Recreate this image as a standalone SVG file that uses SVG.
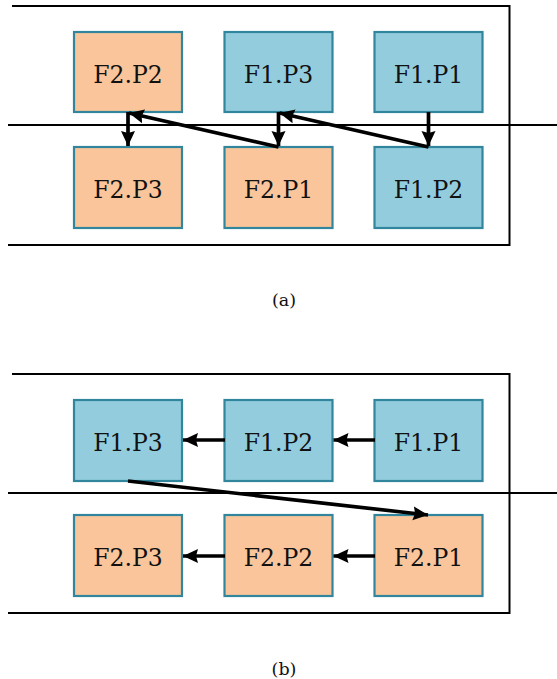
<svg xmlns="http://www.w3.org/2000/svg" width="557" height="679" viewBox="0 0 557 679">
<style>
.frame{stroke:#000;stroke-width:2;fill:none}
.box{stroke:#31869e;stroke-width:2.2}
.blue{fill:#93cddd}
.orange{fill:#fac59a}
text{font-family:'DejaVu Serif',serif;fill:#111;text-anchor:middle}
.lbl{font-size:23.5px}
.cap{font-size:17.5px}
.arr{stroke:#000;stroke-width:3.7;fill:none;marker-end:url(#ah)}
</style>
<defs>
<marker id="ah" markerUnits="userSpaceOnUse" markerWidth="16" markerHeight="16" refX="15" refY="7" orient="auto" viewBox="0 0 16 14">
<path d="M0,0 L15,7 L0,14 L2,7 z" fill="#000"/>
</marker>
</defs>
<g id="frames">
<path class="frame" d="M12,6 H509.5 V245 H8"/>
<path class="frame" d="M8,125 H557"/>
<path class="frame" d="M12,374 H509.5 V613 H8"/>
<path class="frame" d="M8,493 H557"/>
</g>
<g id="a-F2P2"><rect class="box orange" x="74" y="32" width="108" height="80"/><text class="lbl" x="128" y="83">F2.P2</text></g>
<g id="a-F1P3"><rect class="box blue" x="224.5" y="32" width="108" height="80"/><text class="lbl" x="278.5" y="83">F1.P3</text></g>
<g id="a-F1P1"><rect class="box blue" x="374.5" y="32" width="108" height="80"/><text class="lbl" x="428.5" y="83">F1.P1</text></g>
<g id="a-F2P3"><rect class="box orange" x="74" y="147" width="108" height="81"/><text class="lbl" x="128" y="198">F2.P3</text></g>
<g id="a-F2P1"><rect class="box orange" x="224.5" y="147" width="108" height="81"/><text class="lbl" x="278.5" y="198">F2.P1</text></g>
<g id="a-F1P2"><rect class="box blue" x="374.5" y="147" width="108" height="81"/><text class="lbl" x="428.5" y="198">F1.P2</text></g>
<text class="cap" x="284" y="306">(a)</text>
<g id="b-F1P3"><rect class="box blue" x="74" y="400" width="108" height="81"/><text class="lbl" x="128" y="451">F1.P3</text></g>
<g id="b-F1P2"><rect class="box blue" x="224.5" y="400" width="108" height="81"/><text class="lbl" x="278.5" y="451">F1.P2</text></g>
<g id="b-F1P1"><rect class="box blue" x="374.5" y="400" width="108" height="81"/><text class="lbl" x="428.5" y="451">F1.P1</text></g>
<g id="b-F2P3"><rect class="box orange" x="74" y="515" width="108" height="81"/><text class="lbl" x="128" y="566">F2.P3</text></g>
<g id="b-F2P2"><rect class="box orange" x="224.5" y="515" width="108" height="81"/><text class="lbl" x="278.5" y="566">F2.P2</text></g>
<g id="b-F2P1"><rect class="box orange" x="374.5" y="515" width="108" height="81"/><text class="lbl" x="428.5" y="566">F2.P1</text></g>
<text class="cap" x="284" y="675">(b)</text>
<g id="connectors">
<line class="arr" x1="128" y1="112" x2="128" y2="146"/>
<line class="arr" x1="278.5" y1="147" x2="129" y2="113"/>
<line class="arr" x1="278.5" y1="112" x2="278.5" y2="146"/>
<line class="arr" x1="428.5" y1="147" x2="279.5" y2="113"/>
<line class="arr" x1="428.5" y1="112" x2="428.5" y2="146"/>
<line class="arr" x1="225" y1="440" x2="183" y2="440"/>
<line class="arr" x1="375" y1="440" x2="333.5" y2="440"/>
<line class="arr" x1="225" y1="556" x2="183" y2="556"/>
<line class="arr" x1="375" y1="556" x2="333.5" y2="556"/>
<line class="arr" x1="128" y1="481" x2="428" y2="515"/>
</g>
</svg>
